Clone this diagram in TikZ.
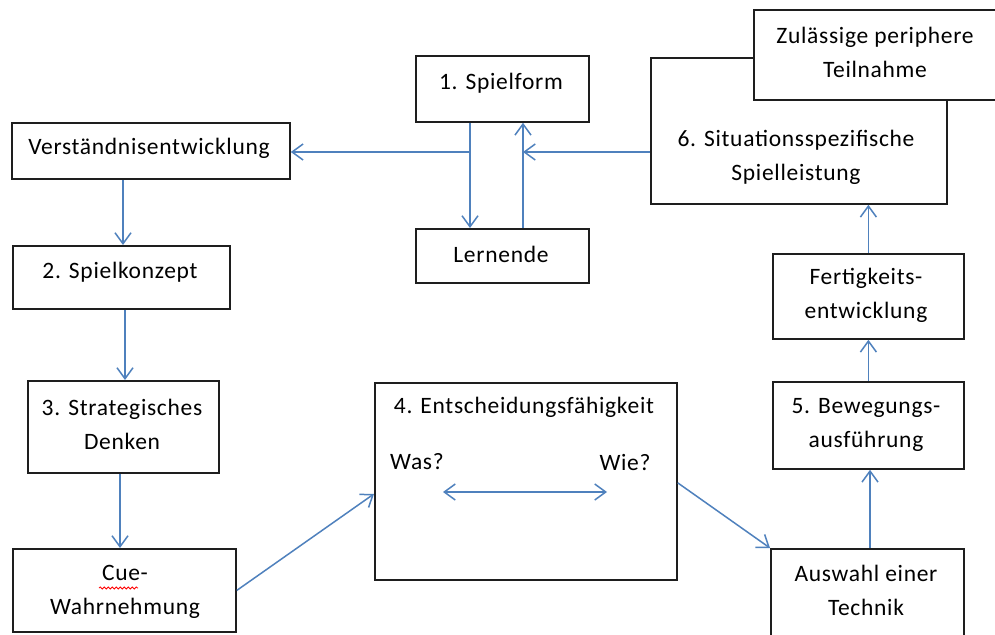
\documentclass[tikz,border=0pt]{standalone}
\usepackage{fontspec}
\setmainfont{Carlito}[LetterSpace=3]
\usetikzlibrary{arrows.meta,decorations.pathmorphing}
\definecolor{arrblue}{RGB}{79,129,189}
\definecolor{boxline}{RGB}{30,30,30}
\begin{document}
\begin{tikzpicture}[x=1pt,y=-1pt,
  box/.style={draw=boxline, line width=1.8pt, fill=white, inner sep=0pt, anchor=north west},
  txt/.style={font=\fontsize{23.5}{34}\selectfont, align=center, inner sep=0pt, text=black},
  arr/.style={draw=arrblue, line width=1.5pt, -{Straight Barb[length=11pt,width=16pt]}},
  dblarr/.style={draw=arrblue, line width=1.5pt, {Straight Barb[length=11pt,width=16pt]}-{Straight Barb[length=11pt,width=16pt]}},
]
\useasboundingbox[fill=white] (0,0) rectangle (995,634);

% boxes
\node[box, minimum width=173pt, minimum height=66pt] (spielform) at (415,55) {};
\node[box, minimum width=173pt, minimum height=54pt] (lernende) at (415,228) {};
\node[box, minimum width=278pt, minimum height=56pt] (verst) at (11,122) {};
\node[box, minimum width=217pt, minimum height=63pt] (konzept) at (12,245) {};
\node[box, minimum width=191pt, minimum height=92pt] (strat) at (27,380) {};
\node[box, minimum width=223pt, minimum height=83pt] (cue) at (12,548) {};
\node[box, minimum width=302pt, minimum height=197pt] (entsch) at (374,382) {};
\node[box, minimum width=193pt, minimum height=100pt] (auswahl) at (770,548) {};
\node[box, minimum width=191pt, minimum height=87pt] (beweg) at (772,381) {};
\node[box, minimum width=191pt, minimum height=85pt] (fertig) at (772,253) {};
\node[box, minimum width=296pt, minimum height=146pt] (box6) at (650,57) {};
\node[box, minimum width=245pt, minimum height=90pt] (zul) at (753,9) {};

% texts
\node[txt] (t1) at (501,83) {1. Spielform};
\node[txt] (tl) at (501,254) {Lernende};
\node[txt] (tv) at (149,148) {Verständnisentwicklung};
\node[txt] (t2) at (120,272) {2. Spielkonzept};
\node[txt] (t3) at (122,424) {3. Strategisches\\Denken};
\node[txt] (tc) at (125,592) {Cue-\\Wahrnehmung};
\node[txt] (t4) at (524,407) {4. Entscheidungsfähigkeit};
\node[txt] (twas) at (417,462) {Was?};
\node[txt] (twie) at (625,462) {Wie?};
\node[txt] (ta) at (866,590) {Auswahl einer\\Technik};
\node[txt] (t5) at (866,425) {5. Bewegungs-\\ausführung};
\node[txt] (tf) at (866,295) {Fertigkeits-\\entwicklung};
\node[txt] (t6) at (796,157) {6. Situationsspezifische\\Spielleistung};
\node[txt] (tz) at (875,52) {Zulässige periphere\\Teilnahme};

% spell-check underline
\draw[red, line width=0.8pt, decorate, decoration={snake, amplitude=1pt, segment length=4pt}] (99,588) -- (138,588);

% helper coordinates
\coordinate (j1) at (470,152);
\coordinate (j2) at (523,152);
\coordinate (c1) at (123,0);
\coordinate (c2) at (125,0);
\coordinate (c3) at (120,0);
\coordinate (c4) at (870,0);
\coordinate (dl) at (443,492);
\coordinate (dr) at (607,492);

% connectors
\draw[arr] (j1 |- spielform.south) -- (j1 |- lernende.north);
\draw[arr] (j1) -- (j1 -| verst.east);
\draw[arr] (j2 |- lernende.north) -- (j2 |- spielform.south);
\draw[arr] (j2 -| box6.west) -- (j2);
\draw[arr] (verst.south -| c1) -- (konzept.north -| c1);
\draw[arr] (konzept.south -| c2) -- (strat.north -| c2);
\draw[arr] (strat.south -| c3) -- (cue.north -| c3);
\draw[arr] (cue.east) -- ([yshift=-12.5pt]entsch.west);
\draw[arr] ([yshift=-1.5pt]entsch.east) -- (auswahl.north west);
\draw[arr] (auswahl.north -| c4) -- (beweg.south -| c4);
\draw[arr] (beweg.north) -- (fertig.south);
\draw[arr] (fertig.north) -- (fertig.north |- box6.south);
\draw[dblarr] (dl) -- (dr);
\end{tikzpicture}
\end{document}
